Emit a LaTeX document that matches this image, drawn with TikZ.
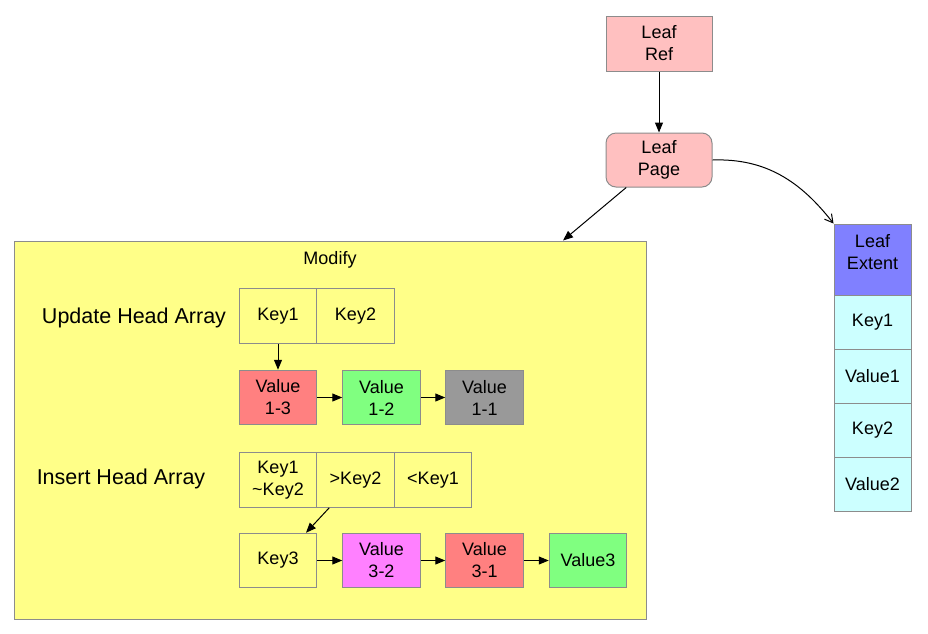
\documentclass[tikz,border=0pt]{standalone}
\usepackage{fontspec}
\setmainfont{Liberation Sans}
\usetikzlibrary{arrows.meta}

\definecolor{leafpink}{HTML}{FFC0C0}
\definecolor{modyellow}{HTML}{FFFF88}
\definecolor{cellline}{HTML}{8C8C8C}
\definecolor{valred}{HTML}{FF8080}
\definecolor{valgreen}{HTML}{80FF80}
\definecolor{valgray}{HTML}{999999}
\definecolor{valmagenta}{HTML}{FF80FF}
\definecolor{extblue}{HTML}{8080FF}
\definecolor{extcyan}{HTML}{CCFFFF}

\tikzset{
  cell/.style={draw=cellline, line width=1pt, minimum width=77.5pt, minimum height=54.5pt,
    inner sep=0pt, align=center, font=\fontsize{18}{22}\selectfont},
  leafbox/.style={cell, fill=leafpink, minimum width=106pt, minimum height=55pt},
  extcell/.style={cell, fill=extcyan, minimum width=77pt, minimum height=54pt},
  heading/.style={font=\fontsize{21.5}{25}\selectfont},
  link/.style={line width=1pt, -{Triangle[length=10pt,width=8pt]}},
}

\begin{document}
\begin{tikzpicture}[x=1pt, y=-1pt]

    \useasboundingbox (0,0) rectangle (928,633);

    % Leaf reference and page
    \node[leafbox] (ref) at (659,43.5) {Leaf\\Ref};
    \node[leafbox, rounded corners=10pt, minimum height=54pt] (page) at (659,160) {Leaf\\Page};
    \draw[link] (ref.south) -- (page.north);

    % Modify area
    \node[draw=cellline, line width=1pt, fill=modyellow, minimum width=632pt, minimum height=378pt] (modify) at (330,430) {};
    \node[cell, draw=none, minimum height=0pt] (modtitle) at (330,260) {Modify};
    \draw[link] (page.220) -- ([xshift=233pt]modify.north);

    % Update head array
    \node[heading] (uptitle) at (134,318) {Update Head Array};
    \node[cell] (uk1) at (278,316) {Key1};
    \node[cell] (uk2) at (355.5,316) {Key2};
    \node[cell, fill=valred] (uv13) at (278,397.5) {Value\\1-3};
    \node[cell, fill=valgreen] (uv12) at (381.5,397.5) {Value\\1-2};
    \node[cell, fill=valgray] (uv11) at (484.5,397.5) {Value\\1-1};
    \draw[link] (uk1.south) -- (uv13.north);
    \draw[link] (uv13.east) -- (uv12.west);
    \draw[link] (uv12.east) -- (uv11.west);

    % Insert head array
    \node[heading] (institle) at (121,479) {Insert Head Array};
    \node[cell] (ik1) at (278,480) {Key1\\\char`~Key2};
    \node[cell] (ik2) at (355.5,480) {>Key2};
    \node[cell] (ik3) at (433,480) {<Key1};
    \node[cell] (k3) at (278,560.5) {Key3};
    \node[cell, fill=valmagenta] (iv32) at (381.5,560.5) {Value\\3-2};
    \node[cell, fill=valred] (iv31) at (484.5,560.5) {Value\\3-1};
    \node[cell, fill=valgreen] (iv3) at (588,560.5) {Value3};
    \draw[link] ([xshift=13pt]ik2.south west) -- ([xshift=28pt]k3.north);
    \draw[link] (k3.east) -- (iv32.west);
    \draw[link] (iv32.east) -- (iv31.west);
    \draw[link] (iv31.east) -- (iv3.west);

    % Leaf extent
    \node[extcell, fill=extblue, minimum height=71pt, text depth=15pt] (exthead) at (872.5,259.5) {Leaf\\Extent};
    \node[extcell] (extk1) at (872.5,322) {Key1};
    \node[extcell] (extv1) at (872.5,376) {Value1};
    \node[extcell] (extk2) at (872.5,430) {Key2};
    \node[extcell] (extv2) at (872.5,484.5) {Value2};
    \draw[line width=1pt, -{Straight Barb[length=8pt,width=9pt]}] (page.east) to[out=2, in=128] (exthead.north west);

\end{tikzpicture}
\end{document}
